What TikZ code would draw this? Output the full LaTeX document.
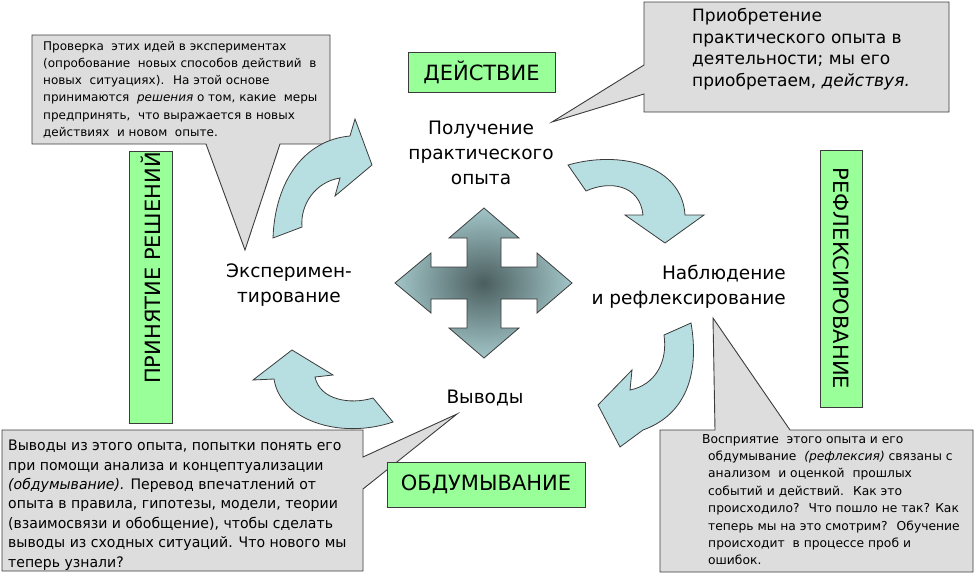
\documentclass[tikz,border=0pt]{standalone}
\usepackage{fontspec}
\setmainfont{DejaVu Sans}
\newfontfamily\callf[FakeStretch=0.97]{DejaVu Sans}
\usetikzlibrary{shapes.geometric}
\definecolor{arrowblue}{HTML}{B7DEE1}
\definecolor{crossdark}{HTML}{4B5E5F}
\definecolor{boxgreen}{HTML}{99FF99}
\definecolor{callgray}{HTML}{DDDDDD}
\definecolor{edgegray}{HTML}{3C3C3C}
\pgfdeclareradialshading{crossshade}{\pgfpoint{0bp}{0bp}}{color(0bp)=(crossdark); color(31bp)=(arrowblue); color(50bp)=(arrowblue)}
\tikzset{
  callout/.style={fill=callgray, draw=edgegray, line width=0.9pt, line join=miter},
  greenbox/.style={fill=boxgreen, draw=edgegray, line width=0.9pt},
  cyclearrow/.style={fill=arrowblue, draw=edgegray, line width=0.8pt, line join=miter},
  steplabel/.style={font=\fontsize{18.5}{25}\selectfont, inner sep=0pt, text=black},
  calltext/.style={inner sep=0pt, align=left, anchor=north west, text=black},
  phase/.style={font=\fontsize{21}{24}\selectfont, inner sep=0pt, text=black}
}
\begin{document}
\begin{tikzpicture}[x=1pt,y=-1pt]
\useasboundingbox (0,0) rectangle (975,576);

% ---- callouts ----
\draw[callout] (32,35) -- (330,35) -- (330,144) -- (280,144) -- (245,250) -- (206,144) -- (32,144) -- cycle;
\draw[callout] (644,2) -- (949,2) -- (949,112) -- (644,112) -- (644,94) -- (552,122) -- (644,65) -- cycle;
\draw[callout] (2,430) -- (363,430) -- (363,457) -- (457,414) -- (363,489) -- (363,571) -- (2,571) -- cycle;
\draw[callout] (660,430) -- (715,430) -- (713,318) -- (790,430) -- (973,430) -- (973,572) -- (660,572) -- cycle;

\node[calltext, font=\fontsize{12}{17.2}\selectfont] (tltext) at (43,41)
 {Проверка \ этих идей в экспериментах\\
  (опробование \ новых способов действий \ в\\
  новых \ ситуациях). \ На этой основе\\
  принимаются \ \textit{решения} о том, какие \ меры\\
  предпринять, \ что выражается в новых\\
  действиях \ и новом \ опыте.};

\node[calltext, font=\fontsize{17}{21.6}\selectfont] (trtext) at (692,8)
 {Приобретение\\
  практического опыта в\\
  деятельности; мы его\\
  приобретаем, \textit{действуя.}};

\node[calltext, font=\callf\fontsize{14.5}{19.4}\selectfont] (bltext) at (8,440)
 {Выводы из этого опыта, попытки понять его\\
  при помощи анализа и концептуализации\\
  \textit{(обдумывание).} Перевод впечатлений от\\
  опыта в правила, гипотезы, модели, теории\\
  (взаимосвязи и обобщение), чтобы сделать\\
  выводы из сходных ситуаций. Что нового мы\\
  теперь узнали?};

\node[calltext, font=\fontsize{12.3}{17.4}\selectfont] (brtext) at (708,434)
 {\hspace*{-6pt}Восприятие \ этого опыта и его\\
  обдумывание \ \textit{(рефлексия)} связаны с\\
  анализом \ и оценкой \ прошлых\\
  событий и действий. \ Как это\\
  происходило? \ Что пошло не так? Как\\
  теперь мы на это смотрим? \ Обучение\\
  происходит \ в процессе проб и\\
  ошибок.};

% ---- green phase boxes ----
\node[greenbox, phase, minimum width=147pt, minimum height=40pt] (act) at (481.5,72) {ДЕЙСТВИЕ};
\node[greenbox, phase, minimum width=198pt, minimum height=45pt] (think) at (486,484.5) {ОБДУМЫВАНИЕ};
\node[greenbox, phase, rotate=-90, minimum width=257pt, minimum height=42pt] (refl) at (841,278.5) {РЕФЛЕКСИРОВАНИЕ};
\draw[greenbox] (129,151) rectangle (172,423);
\node[phase, rotate=90] (decide) at (150.5,268) {ПРИНЯТИЕ РЕШЕНИЙ};

% ---- stage labels ----
\node[steplabel, align=center] (get) at (481,153) {Получение\\практического\\опыта};
\node[steplabel, align=right, anchor=east] (obs) at (786,287) {Наблюдение\\и рефлексирование};
\node[steplabel, align=center] (exp) at (289,285) {Эксперимен-\\тирование};
\node[steplabel] (concl) at (485,398) {Выводы};

% ---- curved cycle arrows ----
\draw[cyclearrow] (273,238) .. controls (275,180) and (305,140) .. (350,136)
  -- (355,119) -- (372,165) -- (335,196) -- (340,178)
  .. controls (315,182) and (300,205) .. (302,227) -- cycle;
\draw[cyclearrow] (568,165) .. controls (620,150) and (682,165) .. (685,215)
  -- (704,215) -- (665,243) -- (625,215) -- (643,215)
  .. controls (640,185) and (610,180) .. (586,191) -- cycle;
\draw[cyclearrow] (691,323) .. controls (700,375) and (685,415) .. (643,430)
  -- (620,447) -- (598,405) -- (632,370) -- (630,390)
  .. controls (655,385) and (668,362) .. (664,335) -- cycle;
\draw[cyclearrow] (393,422) .. controls (340,440) and (280,420) .. (274,379)
  -- (253,380) -- (292,350) -- (333,375) -- (315,377)
  .. controls (320,400) and (350,405) .. (373,398) -- cycle;

% ---- central four-way arrow ----
\begin{scope}[shift={(484,283)}]
\shadedraw[shading=crossshade, draw=edgegray, line width=0.8pt]
  (0,-75) -- (35,-45) -- (17,-45) -- (17,-16) -- (53,-16) -- (53,-30) -- (88,0)
  -- (53,30) -- (53,16) -- (17,16) -- (17,45) -- (35,45) -- (0,75)
  -- (-35,45) -- (-17,45) -- (-17,16) -- (-53,16) -- (-53,30) -- (-89,0)
  -- (-53,-30) -- (-53,-16) -- (-17,-16) -- (-17,-45) -- (-35,-45) -- cycle;
\end{scope}
\end{tikzpicture}
\end{document}
